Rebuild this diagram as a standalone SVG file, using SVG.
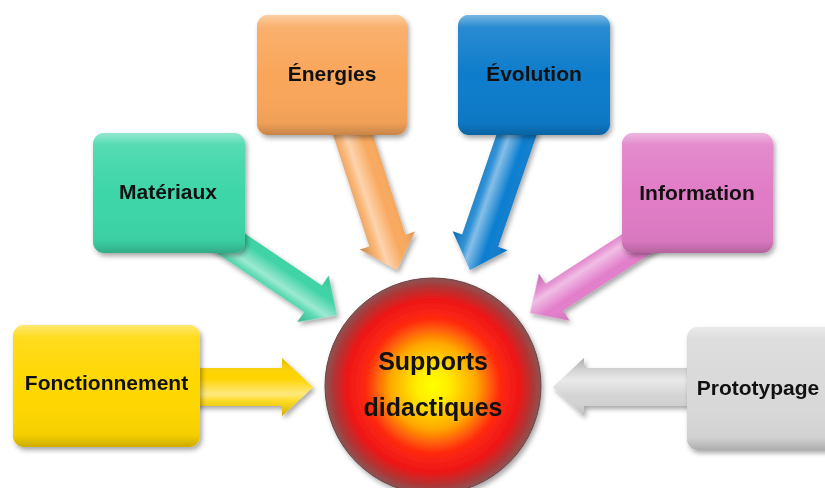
<svg xmlns="http://www.w3.org/2000/svg" xmlns:xlink="http://www.w3.org/1999/xlink" width="825" height="488" viewBox="0 0 825 488">
<defs>
<style>
.lbl{font-family:"Liberation Sans",Arial,sans-serif;font-weight:bold;font-size:21px;fill:#111;text-anchor:middle}
.big{font-family:"Liberation Sans",Arial,sans-serif;font-weight:bold;font-size:25px;fill:#111;text-anchor:middle}
.box{filter:url(#shadow)}
.gloss{fill:url(#boxGloss)}
.sheen{fill:url(#arrowSheen)}
</style>
<filter id="shadow" x="-20%" y="-20%" width="140%" height="150%">
<feDropShadow dx="2" dy="3" stdDeviation="2.5" flood-color="#000" flood-opacity="0.35"/>
</filter>
<linearGradient id="boxGloss" x1="0" y1="0" x2="0" y2="1">
<stop offset="0" stop-color="#fff" stop-opacity="0.45"/>
<stop offset="0.1" stop-color="#fff" stop-opacity="0.12"/>
<stop offset="0.5" stop-color="#fff" stop-opacity="0"/>
<stop offset="0.9" stop-color="#000" stop-opacity="0.04"/>
<stop offset="1" stop-color="#000" stop-opacity="0.2"/>
</linearGradient>
<linearGradient id="arrowSheen" gradientUnits="userSpaceOnUse" x1="0" y1="-29" x2="0" y2="29">
<stop offset="0" stop-color="#000" stop-opacity="0.12"/>
<stop offset="0.35" stop-color="#fff" stop-opacity="0"/>
<stop offset="0.62" stop-color="#fff" stop-opacity="0.5"/>
<stop offset="0.74" stop-color="#fff" stop-opacity="0.15"/>
<stop offset="1" stop-color="#000" stop-opacity="0.2"/>
</linearGradient>
<radialGradient id="core" cx="0.5" cy="0.5" r="0.5">
<stop offset="0" stop-color="#FFFF00"/>
<stop offset="0.15" stop-color="#FFEE00"/>
<stop offset="0.4" stop-color="#FFA800"/>
<stop offset="0.62" stop-color="#FF2A10"/>
<stop offset="0.8" stop-color="#EE1616"/>
<stop offset="0.92" stop-color="#B03535"/>
<stop offset="1" stop-color="#8A5555"/>
</radialGradient>
<path id="arrowWide" d="M0,0 L-31,-29 L-31,-19 L-155,-19 L-155,19 L-31,19 L-31,29 Z"/>
<path id="arrowNarrow" d="M0,0 L-29,-28 L-29,-16 L-155,-16 L-155,16 L-29,16 L-29,28 Z"/>
</defs>

<g id="connectors" filter="url(#shadow)">
<g transform="translate(313,387)"><use xlink:href="#arrowWide" fill="#FFD400"/><use xlink:href="#arrowWide" class="sheen"/></g>
<g transform="translate(553,387) rotate(180)"><use xlink:href="#arrowWide" fill="#D4D4D4"/><use xlink:href="#arrowWide" class="sheen"/></g>
<g transform="translate(337,315) rotate(34)"><use xlink:href="#arrowNarrow" fill="#3ED3A5"/><use xlink:href="#arrowNarrow" class="sheen"/></g>
<g transform="translate(530,313) rotate(147)"><use xlink:href="#arrowNarrow" fill="#E27ECB"/><use xlink:href="#arrowNarrow" class="sheen"/></g>
<g transform="translate(397,270) rotate(72)"><use xlink:href="#arrowWide" fill="#F9A95E"/><use xlink:href="#arrowWide" class="sheen"/></g>
<g transform="translate(470,270) rotate(109)"><use xlink:href="#arrowWide" fill="#0C7ED0"/><use xlink:href="#arrowWide" class="sheen"/></g>
</g>

<g id="fonctionnement">
<rect class="box" x="13" y="325" width="187" height="122" rx="11" fill="#FFD700"/>
<rect class="gloss" x="13" y="325" width="187" height="122" rx="11"/>
<text class="lbl" x="106.5" y="390">Fonctionnement</text>
</g>

<g id="materiaux">
<rect class="box" x="93" y="133" width="152" height="120" rx="11" fill="#3ED6A8"/>
<rect class="gloss" x="93" y="133" width="152" height="120" rx="11"/>
<text class="lbl" x="168" y="199">Matériaux</text>
</g>

<g id="energies">
<rect class="box" x="257" y="15" width="150" height="120" rx="11" fill="#F9A65A"/>
<rect class="gloss" x="257" y="15" width="150" height="120" rx="11"/>
<text class="lbl" x="332" y="81">Énergies</text>
</g>

<g id="evolution">
<rect class="box" x="458" y="15" width="152" height="120" rx="11" fill="#0A7BCB"/>
<rect class="gloss" x="458" y="15" width="152" height="120" rx="11"/>
<text class="lbl" x="534" y="81">Évolution</text>
</g>

<g id="information">
<rect class="box" x="622" y="133" width="151" height="120" rx="11" fill="#E07CC6"/>
<rect class="gloss" x="622" y="133" width="151" height="120" rx="11"/>
<text class="lbl" x="697" y="200">Information</text>
</g>

<g id="prototypage">
<rect class="box" x="687" y="327" width="150" height="123" rx="11" fill="#D9D9D9"/>
<rect class="gloss" x="687" y="327" width="150" height="123" rx="11"/>
<text class="lbl" x="758" y="395">Prototypage</text>
</g>

<g id="supports-didactiques">
<circle cx="433" cy="386" r="108" fill="url(#core)" stroke="#6E4040" stroke-width="1" filter="url(#shadow)"/>
<text class="big" x="433" y="370">Supports</text>
<text class="big" x="433" y="416">didactiques</text>
</g>
</svg>
